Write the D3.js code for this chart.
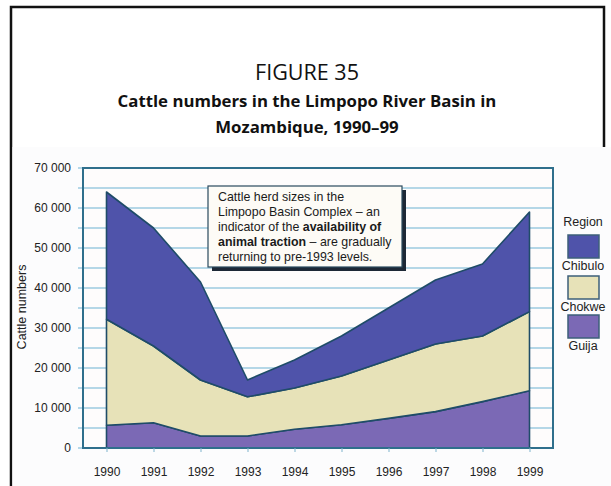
<!DOCTYPE html>
<html>
<head>
<meta charset="utf-8">
<script src="https://cdn.jsdelivr.net/npm/d3@7/dist/d3.min.js"></script>
<style>
  body { margin: 0; background: #fff; }
  svg { display: block; }
</style>
</head>
<body>
<svg id="chart" width="611" height="486"></svg>
<script>
// Cattle numbers by district, Limpopo River Basin, Mozambique
const years   = [1990, 1991, 1992, 1993, 1994, 1995, 1996, 1997, 1998, 1999];
const guija   = [5700, 6300, 3000, 3000, 4700, 5800, 7400, 9100, 11600, 14300];
const chokwe  = [26500, 19200, 14000, 9800, 10300, 12200, 14600, 16900, 16400, 19800];
const chibulo = [31800, 29500, 24500, 4200, 7000, 10000, 13000, 16000, 18000, 24900];

const stackKeys   = ["Guija", "Chokwe", "Chibulo"];     // bottom to top
const legendKeys  = ["Chibulo", "Chokwe", "Guija"];     // top to bottom
const yTickValues = [0, 10000, 20000, 30000, 40000, 50000, 60000, 70000];
const gridValues  = d3.range(0, 70001, 5000);

const fills = { Chibulo: "#4f53aa", Chokwe: "#e7e2b8", Guija: "#7b69b5" };
const edge  = "#1f4c68";

const rows = years.map((yr, i) => ({ year: yr, Guija: guija[i], Chokwe: chokwe[i], Chibulo: chibulo[i] }));

const svg = d3.select("#chart");
const plot = { left: 83, right: 553, top: 168, bottom: 448 };

// outer figure frame (open at the bottom)
svg.append("path")
  .attr("d", "M11,486 V7 H604 V486")
  .attr("fill", "none").attr("stroke", "#111").attr("stroke-width", 2.5);

// chart panel, laid over the lower part of the frame
svg.append("rect").attr("x", 12.5).attr("y", 147).attr("width", 598.5).attr("height", 339)
  .attr("fill", "#fcfcfd");

// titles
const titleFont = "'Open Sans', 'Noto Sans', sans-serif";
function fitText(sel, width) {
  const w = sel.node().getComputedTextLength();
  const s = parseFloat(sel.attr("font-size"));
  sel.attr("font-size", (s * width / w).toFixed(2));
}
const t1 = svg.append("text").attr("x", 307).attr("y", 80).attr("text-anchor", "middle")
  .attr("font-family", titleFont).attr("font-size", 18).attr("fill", "#111").text("FIGURE 35");
fitText(t1, 104);
const t2 = svg.append("text").attr("x", 307).attr("y", 107).attr("text-anchor", "middle")
  .attr("font-family", titleFont).attr("font-weight", "bold").attr("font-size", 18).attr("fill", "#111")
  .text("Cattle numbers in the Limpopo River Basin in");
fitText(t2, 379);
const t3 = svg.append("text").attr("x", 307).attr("y", 133).attr("text-anchor", "middle")
  .attr("font-family", titleFont).attr("font-weight", "bold").attr("font-size", parseFloat(t2.attr("font-size")))
  .attr("fill", "#111").text("Mozambique, 1990–99");

// scales
const x = d3.scalePoint().domain(years).range([plot.left, plot.right]).padding(0.5);
const y = d3.scaleLinear().domain([0, 70000]).range([plot.bottom, plot.top]);

// plot background and gridlines
svg.append("rect").attr("x", plot.left).attr("y", plot.top)
  .attr("width", plot.right - plot.left).attr("height", plot.bottom - plot.top).attr("fill", "#fefcfc");

svg.append("g").selectAll("line").data(gridValues).join("line")
  .attr("x1", plot.left - 5).attr("x2", plot.right)
  .attr("y1", d => y(d)).attr("y2", d => y(d))
  .attr("stroke", "#9ccbe0").attr("stroke-width", 1.6);

// stacked areas
const stacked = d3.stack().keys(stackKeys)(rows);
const area = d3.area()
  .x(d => x(d.data.year))
  .y0(d => y(d[0]))
  .y1(d => y(d[1]));

svg.append("g").selectAll("path").data(stacked).join("path")
  .attr("d", area)
  .attr("fill", d => fills[d.key])
  .attr("stroke", edge).attr("stroke-width", 1.6).attr("stroke-linejoin", "round");

// frame of the plot area
svg.append("rect").attr("x", plot.left).attr("y", plot.top)
  .attr("width", plot.right - plot.left).attr("height", plot.bottom - plot.top)
  .attr("fill", "none").attr("stroke", "#2f6f8c").attr("stroke-width", 2);

// y axis labels
const fmt = d3.formatLocale({ decimal: ".", thousands: " ", grouping: [3], currency: ["", ""] }).format(",");
const yAxis = svg.append("g").attr("transform", `translate(${plot.left},0)`)
  .call(d3.axisLeft(y).tickValues(yTickValues).tickFormat(fmt).tickSize(0).tickPadding(12));
yAxis.select(".domain").remove();
yAxis.selectAll("text").attr("font-family", "'Liberation Sans', Arial, sans-serif")
  .attr("font-size", 12).attr("fill", "#222");

// x axis
const xAxis = svg.append("g").attr("transform", `translate(0,${plot.bottom})`)
  .call(d3.axisBottom(x).tickSizeInner(4).tickSizeOuter(0).tickPadding(15));
xAxis.select(".domain").remove();
xAxis.selectAll("line").attr("stroke", "#7fb3cc");
xAxis.selectAll("text").attr("font-family", "'Liberation Sans', Arial, sans-serif")
  .attr("font-size", 12).attr("fill", "#222");

// y axis title
svg.append("text").attr("transform", "translate(26,307) rotate(-90)")
  .attr("text-anchor", "middle").attr("font-family", "'Liberation Sans', Arial, sans-serif")
  .attr("font-size", 12.5).attr("fill", "#222").text("Cattle numbers");

// legend
const legend = svg.append("g").attr("font-family", "'Liberation Sans', Arial, sans-serif")
  .attr("font-size", 12.5).attr("fill", "#222").attr("text-anchor", "middle");
legend.append("text").attr("x", 583).attr("y", 226).text("Region");
const swatchTop = [235, 276, 315];
legendKeys.forEach((k, i) => {
  legend.append("rect").attr("x", 568).attr("y", swatchTop[i]).attr("width", 31).attr("height", 23)
    .attr("fill", fills[k]).attr("stroke", "#3d5f7a").attr("stroke-width", 1.5);
  legend.append("text").attr("x", 583).attr("y", swatchTop[i] + 35).text(k);
});

// annotation box with drop shadow
const note = svg.append("g");
note.append("rect").attr("x", 212).attr("y", 190).attr("width", 194).attr("height", 81).attr("fill", "#1d2836");
note.append("rect").attr("x", 208).attr("y", 186).attr("width", 194).attr("height", 81)
  .attr("fill", "#fdfbf6").attr("stroke", "#2a4a5e").attr("stroke-width", 1.2);
const noteLines = [
  [["Cattle herd sizes in the", false]],
  [["Limpopo Basin Complex – an", false]],
  [["indicator of the ", false], ["availability of", true]],
  [["animal traction", true], [" – are gradually", false]],
  [["returning to pre-1993 levels.", false]]
];
const noteText = note.append("text").attr("font-family", "'Liberation Sans', Arial, sans-serif")
  .attr("font-size", 12.4).attr("fill", "#1a1a1a");
noteLines.forEach((parts, i) => {
  const line = noteText.append("tspan").attr("x", 218).attr("y", 201 + i * 15);
  parts.forEach(([txt, bold]) => {
    line.append("tspan").attr("font-weight", bold ? "bold" : "normal").text(txt);
  });
});
</script>
</body>
</html>
